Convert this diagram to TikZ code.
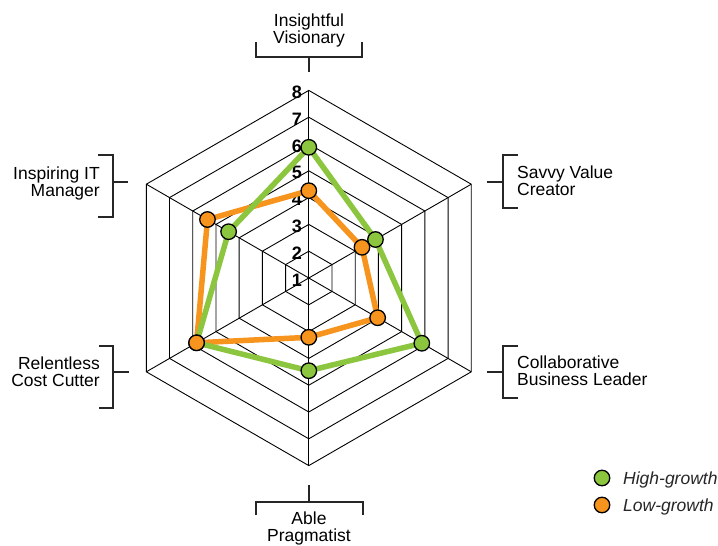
\documentclass[tikz,border=0pt]{standalone}
\usepackage{fontspec}
\setmainfont{Liberation Sans}
\usetikzlibrary{calc}
\definecolor{hgreen}{HTML}{8CC63F}
\definecolor{lorange}{HTML}{F7941D}
\begin{document}
\begin{tikzpicture}[x=1pt,y=-1pt,
  grid/.style={draw=black, line width=0.9pt},
  bracket/.style={draw=black!85, line width=1.2pt},
  lbl/.style={font=\fontsize{17.5}{16.7}\selectfont, inner sep=0pt},
  num/.style={font=\fontsize{18}{18}\selectfont\bfseries, inner sep=0pt, anchor=east},
  legtext/.style={font=\fontsize{17.5}{17.5}\selectfont\itshape, text=black!85, inner sep=0pt, anchor=base west},
  gline/.style={draw=hgreen, line width=5.5pt, line join=round},
  oline/.style={draw=lorange, line width=5.5pt, line join=round},
  dot/.style={circle, draw=black, line width=1.3pt, minimum size=15.5pt, inner sep=0pt},
  gdot/.style={dot, fill=hgreen},
  odot/.style={dot, fill=lorange}]
\useasboundingbox[fill=white] (0,0) rectangle (718,546);
\coordinate (c) at (308.8,278);
% grid hexagons
\foreach \k in {1,...,7}{
  \pgfmathsetmacro{\r}{\k*26.8}
  \draw[grid, shift={(308.8,278)}] (270:\r) -- (330:\r) -- (30:\r) -- (90:\r) -- (150:\r) -- (210:\r) -- cycle;
}
% spokes
\foreach \a in {270,330,30,90,150,210}{
  \draw[grid] (c) -- ++(\a:187.6);
}
% scale numbers
\foreach \k in {1,...,8}{
  \node[num] (n\k) at (302,{280-(\k-1)*26.8}) {\k};
}
% data coordinates
\coordinate (g1) at ($(c)+(270:130.7)$);
\coordinate (g2) at ($(c)+(330:77)$);
\coordinate (g3) at ($(c)+(30:130.5)$);
\coordinate (g4) at ($(c)+(90:92.7)$);
\coordinate (g5) at ($(c)+(150:129.6)$);
\coordinate (g6) at ($(c)+(210:92.6)$);
\coordinate (o1) at ($(c)+(270:87.3)$);
\coordinate (o2) at ($(c)+(330:61.4)$);
\coordinate (o3) at ($(c)+(30:79.5)$);
\coordinate (o4) at ($(c)+(90:59.3)$);
\coordinate (o5) at ($(c)+(150:129.6)$);
\coordinate (o6) at ($(c)+(210:117)$);
% series lines
\draw[oline] (o1) -- (o2) -- (o3) -- (o4) -- (o5) -- (o6) -- cycle;
\draw[gline] (g1) -- (g2) -- (g3) -- (g4) -- (g5) -- (g6) -- cycle;
% markers
\foreach \i in {1,2,3,4,6}{ \node[odot] (od\i) at (o\i) {}; }
\foreach \i in {1,...,6}{ \node[gdot] (gd\i) at (g\i) {}; }
\node[odot] (od5) at (o5) {};
% brackets
\draw[bracket] (256,42) -- (256,57) -- (362,57) -- (362,42);
\draw[bracket] (309,57) -- (309,72);
\draw[bracket] (98,155) -- (113,155) -- (113,217) -- (98,217);
\draw[bracket] (113,182) -- (128,182);
\draw[bracket] (99,346) -- (113,346) -- (113,408) -- (99,408);
\draw[bracket] (113,372) -- (129,372);
\draw[bracket] (518,155) -- (503,155) -- (503,208) -- (518,208);
\draw[bracket] (487,182) -- (503,182);
\draw[bracket] (518,346) -- (503,346) -- (503,398) -- (518,398);
\draw[bracket] (487,372) -- (503,372);
\draw[bracket] (309,485) -- (309,502);
\draw[bracket] (256,515) -- (256,502) -- (363,502) -- (363,515);
% axis labels (base anchor = baseline of last line)
\node[lbl, align=center, anchor=base] (tv) at (309,43.3) {Insightful\\Visionary};
\node[lbl, align=right, anchor=base east] (tim) at (100,196) {Inspiring IT\\Manager};
\node[lbl, align=left, anchor=base west] (tsv) at (517,195) {Savvy Value\\Creator};
\node[lbl, align=right, anchor=base east] (trc) at (100,386) {Relentless\\Cost Cutter};
\node[lbl, align=left, anchor=base west] (tcb) at (517,385) {Collaborative\\Business Leader};
\node[lbl, align=center, anchor=base] (tap) at (309,541.5) {Able\\Pragmatist};
% legend
\node[gdot] (lg) at (602,478) {};
\node[legtext] (lgt) at (623,484) {High-growth};
\node[odot] (lo) at (602,505) {};
\node[legtext] (lot) at (623,511) {Low-growth};
\end{tikzpicture}
\end{document}
